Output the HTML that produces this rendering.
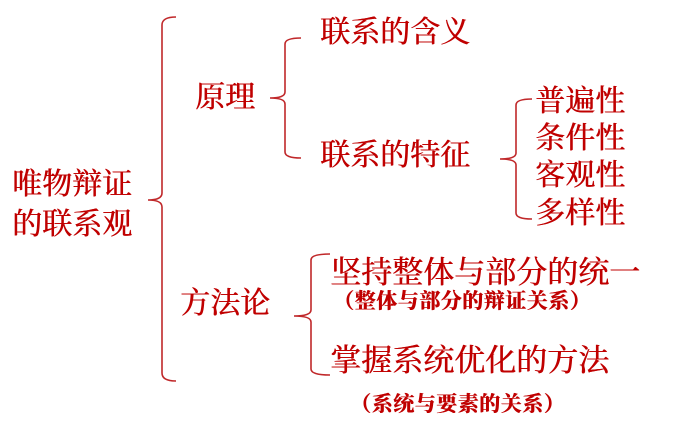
<!DOCTYPE html>
<html><head><meta charset="utf-8"><style>
html,body{margin:0;padding:0;background:#fff;}
body{width:679px;height:433px;position:relative;overflow:hidden;}
.t{position:absolute;white-space:nowrap;color:#c00000;font-family:"Liberation Serif","Noto Serif CJK SC",serif;line-height:1;text-shadow:0.6px 0 0 #c00000;}
.b{font-size:30px;}
.s{font-size:21px;font-weight:bold;}
svg{position:absolute;left:0;top:0;}
</style></head><body>
<svg width="679" height="433" fill="none" stroke="#c0282a" stroke-width="1.6">
<path d="M176 17 Q162 17 162 25 L162 193 Q162 200 148 200 Q162 200 162 207 L162 373 Q162 381 176 381"/>
<path d="M301 38 Q285 38 285 44 L285 92 Q285 98 270 98 Q285 98 285 104 L285 152 Q285 158 301 158"/>
<path d="M532 99 Q516 99 516 105 L516 153 Q516 159 500 159 Q516 159 516 165 L516 213 Q516 219 532 219"/>
<path d="M330 254 Q311 254 311 260 L311 310 Q311 316 294 316 Q311 316 311 322 L311 369 Q311 375 330 375"/>
</svg>
<div class="t b" style="left:12px;top:170px">唯物辩证</div>
<div class="t b" style="left:12px;top:210px">的联系观</div>
<div class="t b" style="left:195px;top:83px">原理</div>
<div class="t b" style="left:320px;top:18px">联系的含义</div>
<div class="t b" style="left:320px;top:141px">联系的特征</div>
<div class="t b" style="left:535px;top:87px">普遍性</div>
<div class="t b" style="left:535px;top:124px">条件性</div>
<div class="t b" style="left:535px;top:161px">客观性</div>
<div class="t b" style="left:535px;top:199px">多样性</div>
<div class="t b" style="left:180px;top:289px">方法论</div>
<div class="t b" style="left:330px;top:257px;font-size:31px">坚持整体与部分的统一</div>
<div class="t s" style="left:333px;top:291px;letter-spacing:0.5px">（整体与部分的辩证关系）</div>
<div class="t b" style="left:330px;top:345px;font-size:31px">掌握系统优化的方法</div>
<div class="t s" style="left:350px;top:394px;letter-spacing:0.5px">（系统与要素的关系）</div>
</body></html>
